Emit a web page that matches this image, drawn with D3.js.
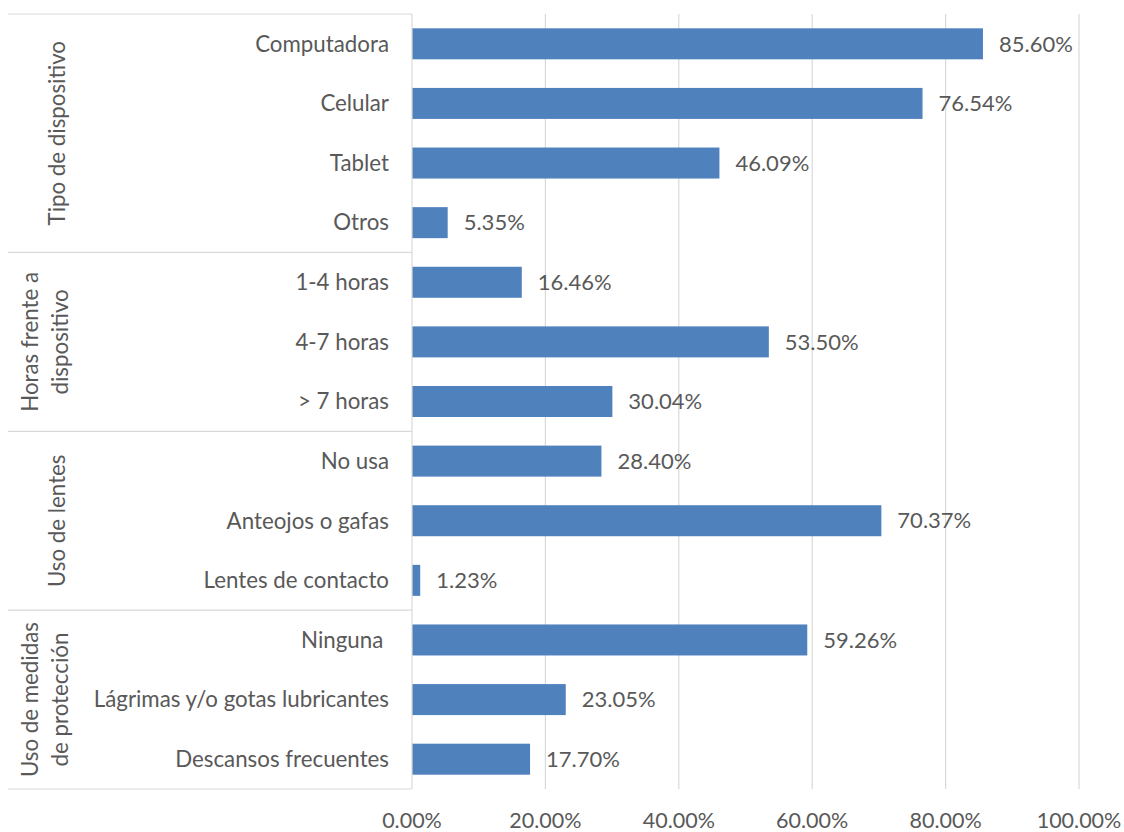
<!DOCTYPE html>
<html>
<head>
<meta charset="utf-8">
<script src="https://cdn.jsdelivr.net/npm/d3@7"></script>
<style>
  html, body { margin: 0; padding: 0; background: #fff; }
  svg text { font-family: Lato, "Open Sans", sans-serif; fill: #595959; white-space: pre; }
</style>
</head>
<body>
<svg id="chart" width="1124" height="832"></svg>
<script>
// Categories, grouped as in the survey
const categories = [
  "Computadora", "Celular", "Tablet", "Otros",
  "1-4 horas", "4-7 horas", "> 7 horas",
  "No usa", "Anteojos o gafas", "Lentes de contacto",
  "Ninguna ", "Lágrimas y/o gotas lubricantes", "Descansos frecuentes"
];
const values = [85.60, 76.54, 46.09, 5.35, 16.46, 53.50, 30.04, 28.40, 70.37, 1.23, 59.26, 23.05, 17.70];
const groupNames = [
  ["Tipo de dispositivo"],
  ["Horas frente a", "dispositivo"],
  ["Uso de lentes"],
  ["Uso de medidas", "de protección"]
];
const groupSizes = [4, 3, 3, 3];
const tickValues = [0, 20, 40, 60, 80, 100];

const svg = d3.select("#chart");
const plotLeft = 412, plotRight = 1079, plotTop = 14, plotBottom = 789, outerLeft = 8;
const labelSize = 22.3, valueSize = 22, tickSize = 21.5;

const x = d3.scaleLinear().domain([0, 100]).range([plotLeft, plotRight]);
const y = d3.scaleBand().domain(categories).range([plotTop, plotBottom])
  .paddingInner(0.48).paddingOuter(0.24);

// Vertical gridlines
svg.append("g").selectAll("line").data(tickValues.slice(1)).join("line")
  .attr("x1", d => x(d)).attr("x2", d => x(d))
  .attr("y1", plotTop).attr("y2", plotBottom)
  .attr("stroke", "#d9d9d9").attr("stroke-width", 1.2);

// Bars
svg.append("g").selectAll("rect").data(values).join("rect")
  .attr("x", x(0))
  .attr("y", (d, i) => y(categories[i]))
  .attr("width", d => x(d) - x(0))
  .attr("height", y.bandwidth())
  .attr("fill", "#4f81bd");

// Value labels
svg.append("g").selectAll("text").data(values).join("text")
  .attr("x", d => x(d) + 16)
  .attr("y", (d, i) => y(categories[i]) + y.bandwidth() / 2)
  .attr("dy", "0.35em")
  .attr("font-size", valueSize)
  .text(d => d.toFixed(2) + "%");

// Category axis line and group separators
svg.append("line").attr("x1", plotLeft).attr("x2", plotLeft).attr("y1", plotTop).attr("y2", plotBottom)
  .attr("stroke", "#d9d9d9").attr("stroke-width", 1.2);

const step = y.step();
let acc = 0;
const bounds = [plotTop];
groupSizes.forEach(n => { acc += n; bounds.push(plotTop + step * acc); });
bounds[bounds.length - 1] = plotBottom;
svg.append("g").selectAll("line").data(bounds).join("line")
  .attr("x1", outerLeft).attr("x2", plotLeft)
  .attr("y1", d => d).attr("y2", d => d)
  .attr("stroke", "#d9d9d9").attr("stroke-width", 1.2);

// Category labels
svg.append("g").selectAll("text").data(categories).join("text")
  .attr("x", plotLeft - 23)
  .attr("y", d => y(d) + y.bandwidth() / 2)
  .attr("dy", "0.35em")
  .attr("text-anchor", "end")
  .attr("font-size", labelSize)
  .text(d => d);

// Group labels, rotated
groupNames.forEach((lines, gi) => {
  const cy = (bounds[gi] + bounds[gi + 1]) / 2;
  const n = lines.length;
  const cx = n === 1 ? 57 : 45;
  const t = svg.append("text")
    .attr("transform", `translate(${cx},${cy}) rotate(-90)`)
    .attr("text-anchor", "middle")
    .attr("font-size", labelSize);
  lines.forEach((s, li) => {
    t.append("tspan").attr("x", 0)
      .attr("y", (li - (n - 1) / 2) * 30)
      .attr("dy", "0.35em")
      .text(s);
  });
});

// X axis tick labels
svg.append("g").selectAll("text").data(tickValues).join("text")
  .attr("x", d => x(d))
  .attr("y", 820)
  .attr("dy", "0.35em")
  .attr("text-anchor", "middle")
  .attr("font-size", tickSize)
  .text(d => d.toFixed(2) + "%");
</script>
</body>
</html>
